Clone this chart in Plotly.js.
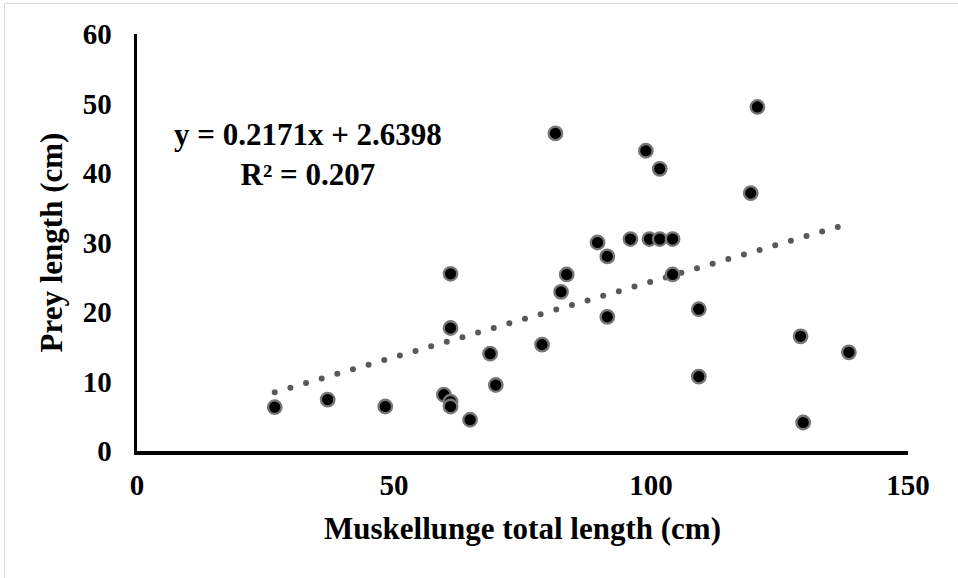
<!DOCTYPE html>
<html>
<head>
<meta charset="utf-8">
<script src="https://cdn.plot.ly/plotly-3.0.1.min.js"></script>
<style>
  html, body { margin: 0; padding: 0; background: #ffffff; }
  #wrap { position: relative; width: 958px; height: 578px; overflow: hidden; }
  #frame { position: absolute; left: 4px; top: 3px; width: 980px; height: 600px;
           border-left: 1.5px solid #d9d9d9; border-top: 1.5px solid #d9d9d9; pointer-events: none; }
  #chart { position: absolute; left: 0; top: 0; width: 958px; height: 578px; }
</style>
</head>
<body>
<div id="wrap">
  <div id="frame"></div>
  <div id="chart"></div>
</div>
<script>
// Muskellunge total length (cm) vs prey length (cm)
const muskyLength = [26.8, 37.1, 48.3, 59.7, 61.0, 61.0, 64.8, 61.0, 68.7, 69.8, 78.8, 61.0,
                     82.5, 83.6, 81.4, 89.6, 91.5, 91.5, 96.0, 99.7, 101.7, 104.2, 104.2,
                     99.0, 101.7, 109.3, 109.3, 119.4, 120.7, 129.1, 129.6, 138.5];
const preyLength  = [6.3, 7.4, 6.4, 8.1, 7.1, 6.4, 4.5, 17.7, 14.0, 9.5, 15.3, 25.5,
                     22.9, 25.4, 45.7, 30.0, 28.0, 19.3, 30.5, 30.5, 30.5, 30.5, 25.4,
                     43.2, 40.6, 20.4, 10.7, 37.1, 49.5, 16.5, 4.1, 14.2];

// Linear trendline reported on the chart
const slope = 0.2171;
const intercept = 2.6398;
const r2 = 0.207;

const xTicks = [0, 50, 100, 150];
const yTicks = [0, 10, 20, 30, 40, 50, 60];

const xMin = Math.min(...muskyLength);
const xMax = Math.max(...muskyLength);
const trendX = [xMin, xMax];
const trendY = trendX.map(v => slope * v + intercept);

const FONT = "'Liberation Serif', 'Times New Roman', Times, serif";

const traces = [
  {
    x: trendX, y: trendY, type: 'scatter', mode: 'lines',
    line: { color: '#595959', width: 6, dash: '0px,16.3px' },
    hoverinfo: 'skip', showlegend: false
  },
  {
    x: muskyLength, y: preyLength, type: 'scatter', mode: 'markers',
    marker: { color: '#000000', size: 13.5, line: { color: '#777777', width: 2.3 } },
    showlegend: false
  }
];

const layout = {
  width: 958, height: 578,
  margin: { l: 137, r: 50, t: 34, b: 127 },
  paper_bgcolor: 'rgba(0,0,0,0)',
  plot_bgcolor: 'rgba(0,0,0,0)',
  font: { family: FONT, color: '#000000', weight: 'bold' },
  showlegend: false,
  xaxis: {
    range: [0, 150], tickvals: xTicks, ticktext: xTicks.map(String),
    showline: true, linecolor: '#000000', linewidth: 3.5,
    showgrid: false, zeroline: false, ticks: '',
    ticklabelstandoff: 6,
    tickfont: { family: FONT, size: 29, color: '#000000', weight: 'bold' },
    title: { text: 'Muskellunge total length (cm)', standoff: 18,
             font: { family: FONT, size: 31, color: '#000000', weight: 'bold' } },
    automargin: false, fixedrange: true
  },
  yaxis: {
    range: [0, 60], tickvals: yTicks, ticktext: yTicks.map(String),
    showline: true, linecolor: '#000000', linewidth: 3.5,
    showgrid: false, zeroline: false, ticks: '',
    ticklabelstandoff: 16,
    tickfont: { family: FONT, size: 29, color: '#000000', weight: 'bold' },
    title: { text: 'Prey length (cm)', standoff: 12,
             font: { family: FONT, size: 31, color: '#000000', weight: 'bold' } },
    automargin: false, fixedrange: true
  },
  annotations: [
    {
      x: 33.3, y: 42.7, xref: 'x', yref: 'y',
      text: 'y = ' + slope.toFixed(4) + 'x + ' + intercept.toFixed(4) + '<br>R² = ' + r2.toFixed(3),
      showarrow: false, xanchor: 'center', yanchor: 'middle', align: 'center',
      font: { family: FONT, size: 31, color: '#000000', weight: 'bold' }
    }
  ]
};

Plotly.newPlot('chart', traces, layout, { staticPlot: true, displayModeBar: false }).then(() => {
  document.querySelectorAll('#chart .scatterlayer .trace path.js-line').forEach(p => {
    p.style.strokeLinecap = 'round';
  });
});
</script>
</body>
</html>
